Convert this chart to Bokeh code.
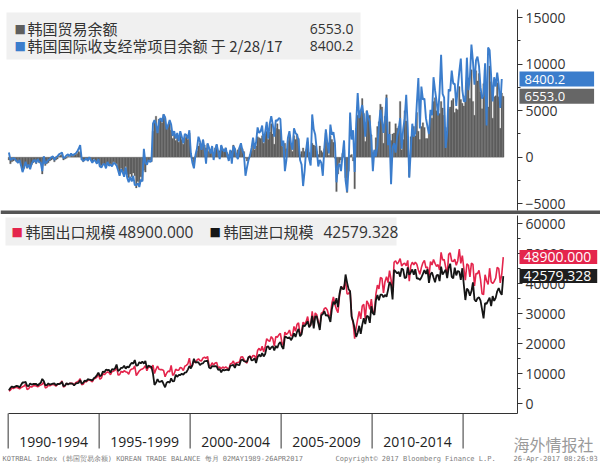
from bokeh.plotting import figure
from bokeh.models import Range1d, FixedTicker, Label, BoxAnnotation, LinearAxis
from bokeh.layouts import column
from bokeh.embed import file_html
from bokeh.resources import INLINE

# ---------------- data (monthly, Jan 1990 onwards, USD million) ----------------
trade_balance = [
    -300, -700, -500, -400, -300, -500, -600, -400, -900, -1400, -1200, -800,  # 1990
    -1200, -900, -1000, -800, -600, -500, -700, -400, -600, -700, -1800, -200,  # 1991
    -900, -700, -600, -400, -300, -200, -500, -300, -200, 100, 200, 300,  # 1992
    -300, -200, -100, 100, 0, 200, 100, 200, 300, 400, 600, 500,  # 1993
    -300, -500, -300, -200, -400, -100, -300, -500, -200, -400, -600, -300,  # 1994
    -1000, -900, -700, -800, -1100, -600, -900, -700, -800, -500, -600, -700,  # 1995
    -1300, -1600, -1200, -1500, -1700, -1000, -1900, -2200, -1800, -2100, -1700, -2000,  # 1996
    -3300, -2600, -2900, -2100, -2500, -1400, -1600, -800, -400, -300, -500, 2800,  # 1997
    3900, 4400, 2600, 4100, 4000, 3700, 4600, 4200, 3300, 3500, 3800, 2900,  # 1998
    2000, 2400, 1800, 2200, 1600, 2500, 1900, 1400, 2100, 2300, 1900, 2600,  # 1999
    300, -200, -600, 100, 700, 1200, 1500, 900, 1800, 1300, 1000, 1400,  # 2000
    600, 800, 1100, 400, 1000, 1300, 600, 700, 1200, 900, 800, 1000,  # 2001
    500, 300, 600, 700, 1300, 900, 400, 800, 1000, 1100, 900, 600,  # 2002
    -100, -400, -200, 300, 700, 1500, 800, 1200, 2200, 2100, 2000, 2300,  # 2003
    1500, 2500, 2800, 1900, 2700, 3600, 2500, 1400, 3100, 3600, 3000, 2900,  # 2004
    1400, 1100, 1500, 900, 1800, 2400, 1500, 600, 2300, 1900, 2500, 2000,  # 2005
    300, 600, 1000, 600, 800, 1600, 500, -300, 1500, 1300, 1200, 600,  # 2006
    300, 1200, 700, 500, 900, 2600, 1600, 200, 2300, 1900, 1600, -100,  # 2007
    -3700, -1800, -600, -300, 400, 800, -2200, -3800, -1500, 200, 300, -400,  # 2008
    -3400, 3100, 4500, 4800, 5000, 6300, 4700, 1700, 5000, 4300, 4500, 2400,  # 2009
    500, 700, 2100, 3300, 3800, 5700, 5400, 1500, 4400, 6700, 2500, 3800,  # 2010
    1800, 2500, 2600, 3600, 3100, 3300, 6000, 800, 1900, 5000, 3900, 2300,  # 2011
    -2100, 2200, 2400, 3300, 2300, 4800, 2800, 1900, 3300, 3700, 3200, 2000,  # 2012
    2000, 3000, 4600, 4200, 6000, 6400, 5000, 5200, 4700, 6000, 5300, 4500,  # 2013
    3200, 2800, 5200, 5400, 6100, 6300, 4800, 5200, 5100, 7600, 6200, 5800,  # 2014
    5500, 6600, 8300, 8400, 6300, 9400, 6000, 4500, 9300, 8200, 9000, 7000,  # 2015
    5200, 7900, 9400, 7700, 5400, 9800, 8100, 4200, 6500, 6600, 8000, 6500,  # 2016
    3100, 6900, 6553.0,  # 2017
]

current_account = [
    500, -300, -200, -100, -200, -400, -600, -300, -900, -1600, -1100, -500,  # 1990
    -1100, -800, -1300, -700, -400, -300, -600, -200, -500, -600, -1500, 100,  # 1991
    -700, -500, -300, -200, 0, 100, -300, 0, 100, 300, 400, 500,  # 1992
    -100, 0, 200, 300, 100, 400, 200, 300, 400, 600, 900, 1300,  # 1993
    -200, -400, -300, -100, -400, 0, -300, -600, -300, -400, -700, -200,  # 1994
    -1000, -1100, -800, -700, -1200, -500, -900, -800, -1000, -600, -700, -900,  # 1995
    -1400, -2000, -1300, -1600, -2100, -1100, -2200, -2700, -2100, -2600, -2000, -3000,  # 1996
    -3000, -2800, -3200, -2400, -2600, 900, -600, -800, -300, -500, -400, 3600,  # 1997
    4000, 3500, 2600, 3900, 4200, 3800, 4600, 4300, 3000, 3400, 4000, 3500,  # 1998
    2300, 2800, 2000, 2600, 1700, 2800, 2200, 1500, 2500, 2400, 2000, 2900,  # 1999
    400, -600, -1200, 200, 900, 2200, 1700, 800, 1900, 900, -700, 1500,  # 2000
    1000, 400, 1200, -300, 800, 1400, 600, -200, 1300, 800, 600, 1000,  # 2001
    200, -400, 800, -700, 1200, 900, 200, -200, 1000, 1500, 700, 300,  # 2002
    -2000, -1100, -300, 200, 1000, 2100, 900, 1600, 3200, 2600, 2800, 3400,  # 2003
    1600, 2700, 3800, 2000, 3600, 4400, 3500, 2200, 4000, 3900, 4200, 4100,  # 2004
    1200, 1800, -1500, -300, 2100, 2800, 1500, 800, 3100, 2600, 2400, 1800,  # 2005
    -300, -800, -3100, -1500, 800, 2100, -200, -900, 4600, 3000, 2400, 800,  # 2006
    -1000, -300, -600, -2000, 1000, 3000, 1500, 400, 3500, 2400, 2700, 1500,  # 2007
    -2700, -1000, -700, -1500, 200, 1800, -2500, -3700, -1200, 4800, 1900, 2900,  # 2008
    -1600, 3600, 6900, 4200, 5000, 5600, 4300, 2200, 5000, 4300, 3800, 1800,  # 2009
    -1500, 800, 100, 1200, 3400, 5100, 4000, 2600, 4100, 6400, 1300, 2500,  # 2010
    -2900, 1000, 1500, 500, 2200, 3000, 4200, 900, 3000, 4200, 6700, 3200,  # 2011
    -2200, 700, 3600, 2200, 2600, 5800, 8500, 3100, 7600, 6200, 6300, 4200,  # 2012
    3300, 2500, 5100, 4500, 8600, 7200, 6000, 4500, 7000, 11000, 6800, 6400,  # 2013
    1000, 2600, 7300, 7100, 9300, 7900, 7900, 5500, 7500, 9200, 10600, 7200,  # 2014
    6000, 6000, 10700, 7200, 8600, 12100, 10300, 7800, 10400, 10800, 9800, 7500,  # 2015
    6300, 6700, 10100, 3400, 11800, 11500, 8700, 6000, 8600, 7600, 9100, 7800,  # 2016
    5300, 8400.2,  # 2017
]

exports = [
    4200, 4600, 5300, 5100, 5400, 5500, 5300, 5000, 5400, 5700, 5900, 6500,  # 1990
    4800, 5000, 5800, 5600, 6000, 6100, 5900, 5700, 6000, 6300, 6500, 7400,  # 1991
    5300, 5500, 6200, 6000, 6300, 6500, 6300, 5900, 6400, 6700, 6900, 7600,  # 1992
    5600, 5900, 6800, 6500, 6800, 6900, 6800, 6300, 7000, 7300, 7600, 8400,  # 1993
    6400, 6500, 7500, 7300, 7800, 8000, 7700, 7300, 8300, 8500, 8900, 10100,  # 1994
    8200, 8600, 10100, 9700, 10300, 10600, 10400, 9700, 10800, 10900, 11200, 12400,  # 1995
    9600, 9700, 10800, 10500, 11000, 10700, 10500, 9900, 11200, 11600, 11700, 12600,  # 1996
    9400, 10200, 11000, 11400, 11600, 12000, 12700, 11000, 12300, 12200, 11800, 12900,  # 1997
    10100, 11500, 12600, 11500, 11400, 11400, 11100, 9000, 10200, 10900, 10700, 12800,  # 1998
    9500, 10000, 11500, 11200, 11200, 12100, 11900, 11100, 12500, 12800, 13300, 15200,  # 1999
    12100, 12800, 14400, 13800, 14600, 15000, 14400, 14300, 15300, 15500, 15200, 15800,  # 2000
    12700, 12600, 13700, 12900, 13600, 13800, 11900, 12300, 11700, 12300, 11900, 12300,  # 2001
    11900, 11400, 13300, 13500, 14300, 12900, 13700, 13800, 13900, 15600, 15700, 14800,  # 2002
    14000, 13600, 15400, 16000, 15200, 16100, 16000, 14800, 17800, 18500, 17700, 19200,  # 2003
    17300, 19100, 21700, 21100, 20800, 22400, 21700, 19200, 22400, 22200, 23000, 23500,  # 2004
    20500, 19400, 23900, 23100, 23600, 24600, 22700, 22700, 25800, 24200, 26500, 27000,  # 2005
    22800, 23800, 27200, 26500, 27400, 29100, 26000, 26100, 30800, 26400, 30300, 29700,  # 2006
    27200, 25800, 30200, 30400, 31800, 32000, 31200, 29100, 29600, 33600, 35600, 33100,  # 2007
    31500, 30400, 36000, 38800, 38700, 39000, 40900, 36600, 36700, 37700, 29300, 27000,  # 2008
    21700, 25400, 28200, 30800, 28300, 32600, 33200, 28300, 34300, 33400, 31500, 34900,  # 2009
    30700, 30300, 36600, 39600, 38300, 42100, 41800, 37000, 40700, 42400, 40400, 44400,  # 2010
    41400, 37300, 47200, 47700, 46600, 47300, 48400, 45900, 46600, 46900, 46000, 47800,  # 2011
    40900, 46000, 47200, 46300, 47200, 46500, 44600, 43200, 45400, 47000, 47800, 45300,  # 2012
    45600, 42300, 47400, 46300, 48100, 46800, 45800, 46400, 44600, 50500, 47900, 48100,  # 2013
    45600, 42900, 49800, 50300, 47600, 47400, 48200, 46200, 47700, 51600, 46800, 49400,  # 2014
    45100, 41200, 46700, 46200, 42300, 46900, 46500, 39300, 43400, 43400, 44500, 41400,  # 2015
    36700, 36400, 43000, 41000, 39800, 45200, 40700, 40100, 40800, 41900, 45500, 45100,  # 2016
    40300, 43200, 48900.000,  # 2017
]

imports = [
    4500, 5300, 5800, 5500, 5700, 6000, 5900, 5400, 6300, 7100, 7100, 7300,  # 1990
    6000, 5900, 6800, 6400, 6600, 6600, 6600, 6100, 6600, 7000, 8300, 7600,  # 1991
    6200, 6200, 6800, 6400, 6600, 6700, 6800, 6200, 6600, 6600, 6700, 7300,  # 1992
    5900, 6100, 6900, 6400, 6800, 6700, 6700, 6100, 6700, 6900, 7000, 7900,  # 1993
    6700, 7000, 7800, 7500, 8200, 8100, 8000, 7800, 8500, 8900, 9500, 10400,  # 1994
    9200, 9500, 10800, 10500, 11400, 11200, 11300, 10400, 11600, 11400, 11800, 13100,  # 1995
    10900, 11300, 12000, 12000, 12700, 11700, 12400, 12100, 13000, 13700, 13400, 14600,  # 1996
    12700, 12800, 13900, 13500, 14100, 13400, 14300, 11800, 12700, 12500, 12300, 10100,  # 1997
    6300, 7000, 8200, 7300, 7400, 7700, 6600, 5500, 7000, 7400, 7000, 8500,  # 1998
    7500, 7600, 9700, 9000, 9600, 9600, 10000, 9700, 10400, 10500, 11400, 12600,  # 1999
    11800, 13000, 15000, 13700, 13900, 13800, 12900, 13400, 13500, 14200, 14200, 14400,  # 2000
    12100, 11800, 12600, 12500, 12600, 12500, 11300, 11600, 10500, 11400, 11100, 11300,  # 2001
    11400, 11100, 12700, 12800, 13000, 12000, 13300, 13000, 12900, 14500, 14800, 14200,  # 2002
    14100, 14000, 15600, 15700, 14500, 14600, 15200, 13600, 15600, 16400, 15700, 16900,  # 2003
    15800, 16600, 18900, 19200, 18100, 18800, 19200, 17800, 19300, 18600, 20000, 20600,  # 2004
    19100, 18300, 22400, 22200, 21800, 22200, 21200, 22100, 23500, 22300, 24000, 25000,  # 2005
    22500, 23200, 26200, 25900, 26600, 27500, 25500, 26400, 29300, 25100, 29100, 29100,  # 2006
    26900, 24600, 29500, 29900, 30900, 29400, 29600, 28900, 27300, 31700, 34000, 33200,  # 2007
    35200, 32200, 36600, 39100, 38300, 38200, 43100, 40400, 38200, 37500, 29000, 27400,  # 2008
    25100, 22300, 23700, 26000, 23300, 26300, 28500, 26600, 29300, 29100, 27000, 32500,  # 2009
    30200, 29600, 34500, 36300, 34500, 36400, 36400, 35500, 36300, 35700, 37900, 40600,  # 2010
    39600, 34800, 44600, 44100, 43500, 44000, 42400, 45100, 44700, 41900, 42100, 45500,  # 2011
    43000, 43800, 44800, 43000, 44900, 41700, 41800, 41300, 42100, 43300, 44600, 43300,  # 2012
    44800, 40300, 43200, 43800, 42100, 40500, 42800, 43000, 40900, 45700, 43100, 43900,  # 2013
    44700, 41900, 45300, 46700, 42300, 41800, 45400, 42800, 44300, 44000, 41300, 45200,  # 2014
    39600, 34600, 38400, 37800, 36000, 37500, 40500, 34800, 34100, 35200, 35500, 34400,  # 2015
    31500, 28500, 33600, 33300, 34400, 35400, 32600, 35900, 34300, 35300, 37500, 38600,  # 2016
    37200, 36300, 42579.328,  # 2017
]

periods = ["1990-1994", "1995-1999", "2000-2004", "2005-2009", "2010-2014"]
period_mids = [1992.5, 1997.5, 2002.5, 2007.5, 2012.5]
period_edges = [1990, 1995, 2000, 2005, 2010, 2015]
top_ticks = [-5000, 0, 5000, 10000, 15000]
top_minor_ticks = [-5000, -2500, 0, 2500, 5000, 7500, 10000, 12500, 15000]
bottom_ticks = [0, 10000, 20000, 30000, 40000, 50000, 60000]
bottom_minor_ticks = [0, 5000, 10000, 15000, 20000, 25000, 30000, 35000, 40000, 45000, 50000, 55000, 60000]

assert len(trade_balance) == 327 and len(exports) == 327 and len(imports) == 327
assert len(current_account) == 326

x_tb = [1990 + (i + 0.5) / 12 for i in range(len(trade_balance))]
x_ca = [1990 + (i + 0.5) / 12 for i in range(len(current_account))]
x_ex = [1990 + (i + 0.5) / 12 for i in range(len(exports))]

# ---------------- geometry helpers (page pixels -> data) ----------------
X_START, X_AXIS = 1989.58, 2017.99          # x=0 px and the right axis (517 px)
PPY = 517 / (X_AXIS - X_START)              # pixels per year
X_FULL = X_START + 600 / PPY
Y1_TOP, Y1_BOT = 15770, -5730                # values at page y 10 and 210
Y2_TOP, Y2_BOT = 62770, -3230                # values at page y 215 and 413


def tx(px):
    return X_START + px / PPY


def ty1(py):
    return Y1_TOP - (py - 10) * (Y1_TOP - Y1_BOT) / 200


def ty2(py):
    return Y2_TOP - (py - 215) * (Y2_TOP - Y2_BOT) / 198


GRAY = "#5e5e5e"
BLUE = "#3b7dcc"
RED = "#e4254c"
BLACK = "#151515"
CJK = "Noto Sans CJK SC"
LAT = "Open Sans"


def right_axis(ticks, minor, bounds):
    ax = LinearAxis(fixed_location=X_AXIS, bounds=bounds,
                    ticker=FixedTicker(ticks=ticks, minor_ticks=minor))
    ax.axis_line_color = "#333333"
    ax.major_tick_line_color = "#333333"
    ax.minor_tick_line_color = "#333333"
    ax.major_tick_out = 5
    ax.major_tick_in = 0
    ax.minor_tick_out = 3
    ax.minor_tick_in = 0
    ax.major_label_standoff = 3
    ax.major_label_text_font = LAT
    ax.major_label_text_font_size = "14px"
    ax.major_label_text_color = "#333333"
    return ax


def lab(p, x, y, text, color, font, size, align="left", **kw):
    p.add_layout(Label(x=x, y=y, text=text, text_color=color, text_font=font,
                       text_font_size=size, text_align=align,
                       text_baseline="middle", **kw))


def tag(p, y, text, bg, size, pad):
    p.add_layout(Label(x=X_AXIS, y=y, x_offset=2, text=text, text_color="white",
                       text_font=LAT, text_font_size=size, text_baseline="middle",
                       background_fill_color=bg, padding=pad))


# ---------------- top panel (page y 0..214) ----------------
p1 = figure(width=600, height=214, x_range=Range1d(X_START, X_FULL),
            y_range=Range1d(ty1(214), ty1(0)),
            output_backend="svg", toolbar_location=None,
            x_axis_location=None, y_axis_location=None, min_border=0)
p1.outline_line_color = None
p1.grid.visible = False
p1.add_layout(right_axis(top_ticks, top_minor_ticks, (ty1(210), ty1(9))), "right")

p1.vbar(x=x_tb, top=trade_balance, bottom=0, width=1 / 12, fill_color=GRAY,
        line_color=GRAY, line_width=0.3)
p1.line(x_ca, current_account, line_color=BLUE, line_width=1.9)

p1.add_layout(BoxAnnotation(left=tx(6), right=tx(360), top=ty1(12), bottom=ty1(59),
                            fill_color="#f0f0f0", fill_alpha=1, line_color=None))
lab(p1, tx(14), ty1(28), "■", GRAY, "DejaVu Sans", "12px")
lab(p1, tx(27), ty1(28), "韩国贸易余额", "#333333", CJK, "15px")
lab(p1, tx(353), ty1(28), f"{trade_balance[-1]:.1f}", "#333333", LAT, "14px", align="right")
lab(p1, tx(14), ty1(45), "■", BLUE, "DejaVu Sans", "12px")
lab(p1, tx(27), ty1(45), "韩国国际收支经常项目余额 于 2/28/17", "#333333", CJK, "15px")
lab(p1, tx(353), ty1(45), f"{current_account[-1]:.1f}", "#333333", LAT, "14px", align="right")

tag(p1, current_account[-1], f"{current_account[-1]:.1f}", BLUE, "13px",
    dict(left=5, right=29, top=3, bottom=3))
tag(p1, trade_balance[-1], f"{trade_balance[-1]:.1f}", "#666666", "13px",
    dict(left=5, right=29, top=3, bottom=3))

# separator bar between panels
p1.add_layout(BoxAnnotation(top=ty1(210), bottom=ty1(214), fill_color="#555555",
                            fill_alpha=1, line_color=None))

# ---------------- bottom panel (page y 214..464) ----------------
p2 = figure(width=600, height=250, x_range=Range1d(X_START, X_FULL),
            y_range=Range1d(ty2(464), ty2(214)),
            output_backend="svg", toolbar_location=None,
            x_axis_location=None, y_axis_location=None, min_border=0)
p2.outline_line_color = None
p2.grid.visible = False
p2.add_layout(right_axis(bottom_ticks, bottom_minor_ticks, (ty2(413), ty2(215))), "right")

xa = LinearAxis(fixed_location=ty2(413), bounds=(1990, X_AXIS),
                ticker=FixedTicker(ticks=period_mids))
overrides = {}
for m, t in zip(period_mids, periods):
    overrides[m] = t
    overrides[str(m)] = t
xa.major_label_overrides = overrides
xa.axis_line_color = "#333333"
xa.major_tick_line_color = None
xa.major_tick_out = 0
xa.major_tick_in = 0
xa.minor_tick_line_color = None
xa.major_label_standoff = 23
xa.major_label_text_font = LAT
xa.major_label_text_font_size = "14px"
xa.major_label_text_color = "#222222"
p2.add_layout(xa, "below")

# period separators below the time axis
p2.segment(x0=period_edges, y0=ty2(413), x1=period_edges, y1=ty2(448),
           line_color="#333333", line_width=1)

p2.line(x_ex, exports, line_color=RED, line_width=1.6)
p2.line(x_ex, imports, line_color=BLACK, line_width=1.8)

p2.add_layout(BoxAnnotation(left=tx(5), right=tx(396), top=ty2(217), bottom=ty2(245),
                            fill_color="#f0f0f0", fill_alpha=1, line_color=None))
lab(p2, tx(11), ty2(231), "■", RED, "DejaVu Sans", "12px")
lab(p2, tx(25), ty2(231), "韩国出口规模", "#333333", CJK, "15px")
lab(p2, tx(118), ty2(231), f"{exports[-1]:.3f}", "#333333", LAT, "15.5px")
lab(p2, tx(209), ty2(231), "■", BLACK, "DejaVu Sans", "12px")
lab(p2, tx(223), ty2(231), "韩国进口规模", "#333333", CJK, "15px")
lab(p2, tx(323), ty2(231), f"{imports[-1]:.3f}", "#333333", LAT, "15.5px")

tag(p2, exports[-1], f"{exports[-1]:.3f}", RED, "14px", dict(left=4, right=6, top=2, bottom=2))
tag(p2, imports[-1], f"{imports[-1]:.3f}", "#1e1e1e", "14px", dict(left=4, right=6, top=2, bottom=2))

# watermark and footer
lab(p2, tx(513), ty2(443), "海外情报社", "#9a9a9a", CJK, "16px")
lab(p2, tx(2), ty2(458), "KOTRBAL Index (韩国贸易余额) KOREAN TRADE BALANCE 每月 02MAY1989-26APR2017",
    "#808080", "DejaVu Sans Mono", "7px")
lab(p2, tx(335), ty2(458), "Copyright© 2017 Bloomberg Finance L.P.", "#808080", "DejaVu Sans Mono", "7px")
lab(p2, tx(513), ty2(458), "26-Apr-2017 08:26:03", "#808080", "DejaVu Sans Mono", "7px")

layout = column(p1, p2, spacing=0)
open("out.html", "w").write(file_html(layout, INLINE))
